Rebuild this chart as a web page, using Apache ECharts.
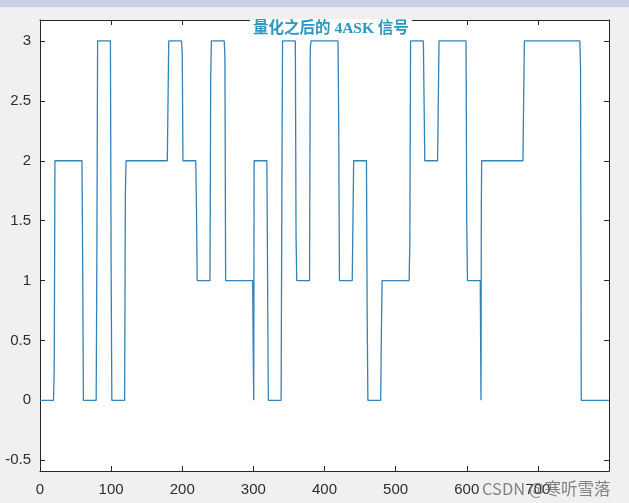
<!DOCTYPE html>
<html>
<head>
<meta charset="utf-8">
<script src="https://cdn.jsdelivr.net/npm/echarts@6/dist/echarts.min.js"></script>
<style>
  html, body { margin: 0; padding: 0; background: #f0f0f0; }
  #main { width: 629px; height: 503px; }
</style>
</head>
<body>
<div id="main"></div>
<script>
// 每个码元 20 个采样点，共 40 个码元
const symbolLevels = [0, 2, 2, 0, 3, 0, 2, 2, 2, 3, 2, 1, 3, 1, 1, 2, 0, 3, 1, 3,
                      3, 1, 2, 0, 1, 1, 3, 2, 3, 3, 1, 2, 2, 2, 3, 3, 3, 3, 0, 0]
// 跳变处的中间采样点
const edgeX = [20, 60, 80, 100, 120, 200, 220, 240, 260, 300, 300.5, 340, 360, 380,
               420, 460, 480, 520, 600, 620, 620.5, 760]
const edgeY = [0.26, 1.16, 1.27, 1.12, 1.73, 2.89, 1.60, 2.69, 2.87, 0.27, 0, 1.66, 1.37, 2.94,
               2.31, 0.71, 0.58, 1.33, 1.47, 0, 1.64, 2.77]
const xLabels = ['0', '100', '200', '300', '400', '500', '600', '700', '']
const yTicks = [-0.5, 0, 0.5, 1, 1.5, 2, 2.5, 3]
const symbolLen = 20

// 拼出折线的点
let points = []
symbolLevels.forEach(function (v, i) {
  let x0 = i === 0 ? 0 : i * symbolLen + 1
  let x1 = i === symbolLevels.length - 1 ? symbolLevels.length * symbolLen : (i + 1) * symbolLen - 1
  points.push([x0, v])
  points.push([x1, v])
})
edgeX.forEach(function (x, i) {
  points.push([x, edgeY[i]])
})
points.sort(function (a, b) { return a[0] - b[0] })

const axisColor = '#262626'
const labelStyle = {
  color: '#2e2e2e',
  fontSize: 15,
  fontFamily: 'Liberation Sans, Arial, sans-serif'
}

const option = {
  backgroundColor: '#f0f0f0',
  animation: false,
  title: [
    {
      text: '量化之后的 4ASK 信号',
      left: 250,
      top: 19,
      backgroundColor: '#fff',
      padding: [2, 3, 2, 3],
      textStyle: {
        color: '#2a97c0',
        fontSize: 15.5,
        fontWeight: 'bold',
        fontFamily: 'Liberation Serif, Noto Sans CJK SC, serif'
      }
    },
    {
      text: 'CSDN @寒听雪落',
      left: 477,
      top: 475,
      textStyle: {
        color: 'rgba(110, 110, 110, 0.85)',
        fontSize: 16.5,
        fontWeight: 'normal',
        fontFamily: 'Noto Sans CJK SC, sans-serif'
      }
    }
  ],
  graphic: [
    { type: 'rect', shape: { x: 0, y: 0, width: 629, height: 7 }, style: { fill: '#c9d3e6' } },
    { type: 'rect', shape: { x: 0, y: 7, width: 629, height: 1 }, style: { fill: '#e6ebf3' } }
  ],
  grid: {
    left: 40,
    right: 20,
    top: 20,
    bottom: 32,
    show: true,
    backgroundColor: '#fff',
    borderWidth: 0
  },
  xAxis: [
    {
      type: 'value',
      min: 0,
      max: 800,
      interval: 100,
      axisLine: { show: true, onZero: false, lineStyle: { color: axisColor } },
      axisTick: { show: true, inside: true, length: 5, lineStyle: { color: axisColor } },
      axisLabel: Object.assign({
        margin: 11,
        formatter: function (v) { return xLabels[Math.round(v / 100)] }
      }, labelStyle),
      splitLine: { show: false }
    },
    {
      type: 'value',
      position: 'top',
      min: 0,
      max: 800,
      interval: 100,
      axisLine: { show: true, onZero: false, lineStyle: { color: axisColor } },
      axisTick: { show: true, inside: true, length: 5, lineStyle: { color: axisColor } },
      axisLabel: { show: false },
      splitLine: { show: false }
    }
  ],
  yAxis: [
    {
      type: 'value',
      min: -0.59,
      max: 3.175,
      axisLine: { show: true, onZero: false, lineStyle: { color: axisColor } },
      axisTick: { show: true, inside: true, length: 5, customValues: yTicks, lineStyle: { color: axisColor } },
      axisLabel: Object.assign({ margin: 9, customValues: yTicks }, labelStyle),
      splitLine: { show: false }
    },
    {
      type: 'value',
      position: 'right',
      min: -0.59,
      max: 3.175,
      axisLine: { show: true, onZero: false, lineStyle: { color: axisColor } },
      axisTick: { show: true, inside: true, length: 5, customValues: yTicks, lineStyle: { color: axisColor } },
      axisLabel: { show: false },
      splitLine: { show: false }
    }
  ],
  series: [
    {
      type: 'line',
      data: points,
      showSymbol: false,
      lineStyle: { color: '#3382b8', width: 1.3 },
      z: 1
    }
  ]
}

let myChart = echarts.init(document.getElementById('main'))
myChart.setOption(option, true)
</script>
</body>
</html>
